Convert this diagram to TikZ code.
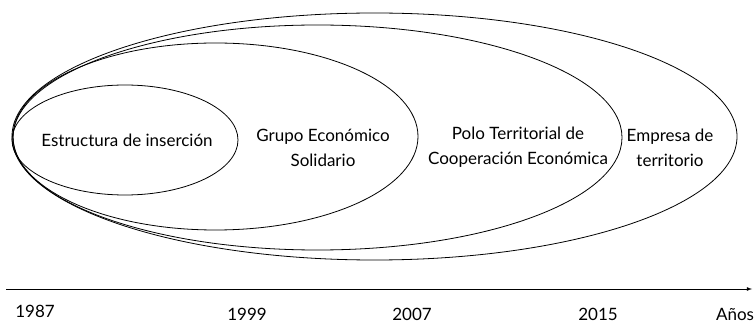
\documentclass[tikz,border=0pt]{standalone}
\usepackage{fontspec}
\setmainfont{Lato}
\usetikzlibrary{arrows}

\begin{document}
\begin{tikzpicture}[x=1pt,y=1pt,
    etapa/.style={align=center,font=\fontsize{17}{25}\selectfont},
    anio/.style={anchor=base,font=\fontsize{17}{18}\selectfont}]
        \useasboundingbox (0,0) rectangle (755,324);
        % nested stages
        \draw[line width=0.8pt] (125,184) ellipse (113 and 55);
        \draw[line width=0.8pt] (215.5,187.5) ellipse (202.5 and 93.5);
        \draw[line width=0.8pt] (317.5,186.5) ellipse (304.5 and 112.5);
        \draw[line width=0.8pt] (374.5,187.5) ellipse (362.5 and 123.5);
        \node[etapa] (insercion) at (127,184) {Estructura de inserción};
        \node[etapa] (grupo) at (323,176.5) {Grupo Económico\\Solidario};
        \node[etapa] (polo) at (518,176.5) {Polo Territorial de\\Cooperación Económica};
        \node[etapa] (empresa) at (670,176.5) {Empresa de\\territorio};
        % time axis
        \coordinate (inicio) at (6,35);
        \coordinate (fin) at (752,35);
        \draw[-latex,line width=0.8pt] (inicio) -- (fin);
        \node[anio] (a1987) at (35,7) {1987};
        \foreach \x/\t in {247/1999,412/2007,598/2015}
        \node[anio] (a\t) at (\x,3.5) {\t};
        \node[anio] (anios) at (735,3.5) {Años};
    \end{tikzpicture}
\end{document}
